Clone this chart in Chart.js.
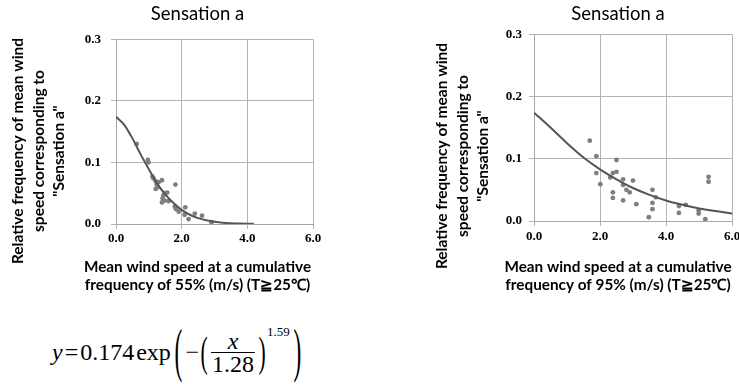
<!DOCTYPE html>
<html>
<head>
<meta charset="utf-8">
<script src="https://cdn.jsdelivr.net/npm/chart.js@4"></script>
<style>
  html, body { margin: 0; padding: 0; background: #fff; overflow: hidden; }
  body { width: 739px; height: 384px; position: relative; }
  canvas { position: absolute; top: 0; }
  #left { left: 0; }
  #right { left: 430px; }
  #formula {
    position: absolute; left: 52px; top: 320px; height: 64px;
    display: flex; align-items: center;
    font-family: "Liberation Serif", "DejaVu Serif", serif; font-size: 24px; color: #000;
  }
  #formula .big { display: inline-block; font-size: 26px; transform: scale(0.9, 2.3); margin: 0 3px; }
  #formula .mid { display: inline-block; font-size: 24px; transform: scale(0.9, 1.75); margin: 0 1px; }
  #formula .frac { display: inline-flex; flex-direction: column; align-items: center; margin: 0 2px; }
  #formula .frac span { line-height: 22px; padding: 0 1px; }
  #formula .frac .den { border-top: 1px solid #000; }
  #formula sup { font-size: 13px; align-self: flex-start; margin-top: 4px; }
</style>
</head>
<body>
<canvas id="left" width="395" height="300"></canvas>
<canvas id="right" width="376" height="300"></canvas>
<div id="formula">
  <span><i>y</i>&#8202;=&#8202;0.174&#8202;exp</span>
  <span class="big">(</span>
  <span>&minus;</span>
  <span class="mid">(</span>
  <span class="frac"><span><i>x</i></span><span class="den">1.28</span></span>
  <span class="mid">)</span>
  <sup>1.59</sup>
  <span class="big">)</span>
</div>
<script>
// left panel: 55% cumulative frequency
const leftPointsX = [0.63, 0.97, 0.99, 1.11, 1.14, 1.21, 1.30, 1.40, 1.24, 1.27, 1.21, 1.81, 1.48, 1.56, 1.44,
  1.42, 1.40, 1.48, 1.60, 1.79, 1.83, 1.91, 2.11, 2.09, 2.21, 2.40, 2.62, 2.91]
const leftPointsY = [0.130, 0.104, 0.100, 0.077, 0.074, 0.069, 0.068, 0.071, 0.064, 0.060, 0.057, 0.064, 0.050, 0.051, 0.046,
  0.042, 0.035, 0.038, 0.037, 0.028, 0.024, 0.020, 0.027, 0.015, 0.008, 0.017, 0.0135, 0.003]
const leftCurveX = [0, 0.25, 0.5, 0.75, 1.0, 1.25, 1.5, 1.75, 2.0, 2.25, 2.5, 2.75, 3.0, 3.25, 3.5, 3.75, 4.0, 4.2]
const leftCurveY = [0.174, 0.161, 0.139, 0.113, 0.089, 0.066, 0.048, 0.034, 0.023, 0.015, 0.0096, 0.006, 0.0036, 0.002, 0.0012, 0.0007, 0.0004, 0.0003]

// right panel: 95% cumulative frequency
const rightPointsX = [1.69, 1.89, 1.89, 2.01, 2.50, 2.39, 2.50, 2.31, 2.39, 2.39, 2.70, 2.70, 2.70, 2.80, 2.90,
  3.00, 3.10, 3.48, 3.59, 3.59, 3.59, 3.69, 4.39, 4.39, 4.60, 4.99, 4.99, 5.19, 5.29, 5.29]
const rightPointsY = [0.129, 0.104, 0.077, 0.059, 0.098, 0.077, 0.079, 0.070, 0.046, 0.037, 0.067, 0.058, 0.033, 0.050, 0.046,
  0.065, 0.027, 0.006, 0.050, 0.029, 0.019, 0.038, 0.024, 0.013, 0.026, 0.017, 0.012, 0.003, 0.071, 0.063]
const rightCurveX = [0, 0.5, 1.0, 1.5, 2.0, 2.5, 3.0, 3.5, 4.0, 4.5, 5.0, 5.5, 6.0]
const rightCurveY = [0.174, 0.150, 0.125, 0.102, 0.083, 0.067, 0.053, 0.042, 0.033, 0.026, 0.020, 0.016, 0.012]

const chartTitle = 'Sensation a'
const yTitle = ['Relative frequency of mean wind', 'speed corresponding to', '"Sensation a"']
const leftXTitle = ['Mean wind speed at a cumulative', 'frequency of 55% (m/s) (T\u226725\u2103)']
const rightXTitle = ['Mean wind speed at a cumulative', 'frequency of 95% (m/s) (T\u226725\u2103)']
const xTicks = [0, 2, 4, 6]
const yTicks = [0, 0.1, 0.2, 0.3]

Chart.defaults.font.family = 'Lato'
Chart.defaults.color = '#000'

// rotated three-line y title, placed by hand
const sideTitle = {
  id: 'sideTitle',
  afterDraw(chart, args, opts) {
    const ctx = chart.ctx
    ctx.save()
    ctx.translate(opts.x, opts.y)
    ctx.rotate(-Math.PI / 2)
    ctx.font = 'bold 15.5px Lato'
    ctx.fillStyle = '#000'
    ctx.textAlign = 'center'
    ctx.textBaseline = 'middle'
    opts.lines.forEach((t, i) => ctx.fillText(t, 0, i * opts.lineHeight))
    ctx.restore()
  }
}

function toPoints(xs, ys) {
  return xs.map((x, i) => ({ x: x, y: ys[i] }))
}

// same padding on both sides keeps the titles centred on the canvas,
// the y scale box is kept just wide enough for its labels
function makeChart(id, cfg) {
  const tickFont = { family: '"Liberation Serif", "DejaVu Serif", serif', size: 13, weight: 'bold' }
  return new Chart(document.getElementById(id), {
    type: 'scatter',
    data: {
      datasets: [{
        data: toPoints(cfg.curveX, cfg.curveY),
        showLine: true,
        borderColor: '#555',
        borderWidth: 2,
        pointRadius: 0,
        cubicInterpolationMode: 'monotone',
        order: 0
      }, {
        data: toPoints(cfg.pointsX, cfg.pointsY),
        backgroundColor: '#7f7f7f',
        borderWidth: 0,
        pointRadius: 2.4,
        order: 1
      }]
    },
    options: {
      responsive: false,
      animation: false,
      layout: { padding: { left: cfg.pad, right: cfg.pad, top: 0, bottom: 0 } },
      plugins: {
        legend: { display: false },
        tooltip: { enabled: false },
        title: {
          display: true,
          text: chartTitle,
          font: { size: 18.5, weight: 'normal', lineHeight: 1.2 },
          padding: { top: 3, bottom: cfg.titleGap }
        },
        subtitle: {
          display: true,
          position: 'bottom',
          text: cfg.xTitle,
          font: { size: 15.3, weight: 'bold', lineHeight: 18 / 15.3 },
          padding: { top: 0, bottom: 6 }
        },
        sideTitle: { lines: yTitle, x: cfg.yTitleX, y: cfg.yTitleY, lineHeight: 20.5 }
      },
      scales: {
        x: {
          type: 'linear', min: 0, max: 6,
          afterBuildTicks: s => { s.ticks = xTicks.map(v => ({ value: v })) },
          afterFit: s => { s.height = cfg.xHeight },
          ticks: { font: tickFont, padding: cfg.xPad, callback: v => v.toFixed(1) },
          grid: { color: '#b4b4b4', tickLength: 5 },
          border: { color: '#a6a6a6' }
        },
        y: {
          min: 0, max: 0.3,
          afterBuildTicks: s => { s.ticks = yTicks.map(v => ({ value: v })) },
          afterFit: s => { s.width = cfg.yWidth },
          ticks: { font: tickFont, padding: cfg.yPad, callback: v => v.toFixed(1) },
          grid: { color: '#b4b4b4', tickLength: 5 },
          border: { color: '#a6a6a6' }
        }
      }
    },
    plugins: [sideTitle]
  })
}

makeChart('left', {
  pointsX: leftPointsX, pointsY: leftPointsY, curveX: leftCurveX, curveY: leftCurveY,
  xTitle: leftXTitle, pad: 82, titleGap: 14, yWidth: 34, xHeight: 34,
  xPad: 2, yPad: 10, yTitleX: 18, yTitleY: 151
})
makeChart('right', {
  pointsX: rightPointsX, pointsY: rightPointsY, curveX: rightCurveX, curveY: rightCurveY,
  xTitle: rightXTitle, pad: 74, titleGap: 9, yWidth: 30, xHeight: 37,
  xPad: 3, yPad: 7, yTitleX: 12, yTitleY: 156
})
</script>
</body>
</html>
